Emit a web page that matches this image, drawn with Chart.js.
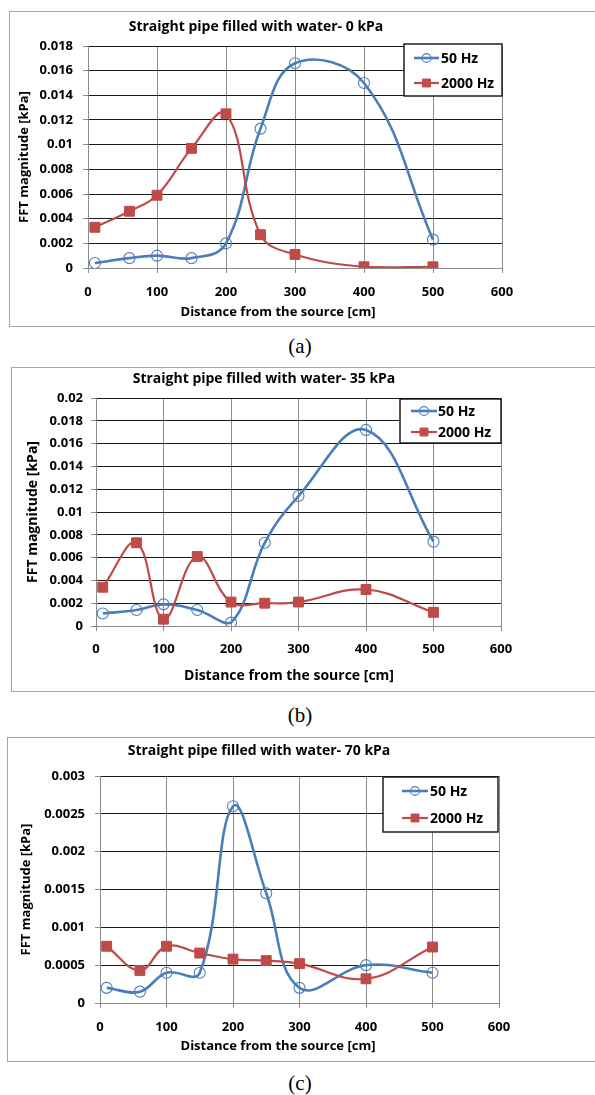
<!DOCTYPE html>
<html>
<head>
<meta charset="utf-8">
<script src="https://cdn.jsdelivr.net/npm/chart.js@4.4.1/dist/chart.umd.min.js"></script>
<style>
  body { margin: 0; background: #fff; width: 595px; height: 1095px; position: relative; overflow: hidden; }
  .box { position: absolute; border: 1px solid #a6a6a6; border-right: none; background: #fff; }
  .box canvas { position: absolute; left: 0; top: 0; }
  .cap { position: absolute; left: 0; width: 600px; text-align: center; font-family: "Liberation Serif", serif; font-size: 21px; color: #000; }
</style>
</head>
<body>
<div class="box" style="left:9px;top:11px;width:586px;height:314px"><canvas id="chartA" width="585" height="314"></canvas></div>
<div class="cap" style="top:334px">(a)</div>
<div class="box" style="left:11px;top:367px;width:584px;height:323px"><canvas id="chartB" width="583" height="323"></canvas></div>
<div class="cap" style="top:703px">(b)</div>
<div class="box" style="left:7px;top:737px;width:588px;height:323px"><canvas id="chartC" width="587" height="323"></canvas></div>
<div class="cap" style="top:1071px">(c)</div>

<script>
// distance of the measuring points [cm]
const distance = [10, 60, 100, 150, 200, 250, 300, 400, 500];

// (a) 0 kPa
const hz50_0kPa   = [0.0004, 0.0008, 0.0010, 0.0008, 0.0020, 0.0113, 0.0166, 0.0150, 0.0023];
const hz2000_0kPa = [0.0033, 0.0046, 0.0059, 0.0097, 0.0125, 0.0027, 0.0011, 0.0001, 0.0001];

// (b) 35 kPa
const hz50_35kPa   = [0.0011, 0.0014, 0.0019, 0.0014, 0.0003, 0.0073, 0.0114, 0.0172, 0.0074];
const hz2000_35kPa = [0.0034, 0.0073, 0.0006, 0.0061, 0.0021, 0.0020, 0.0021, 0.0032, 0.0012];

// (c) 70 kPa
const hz50_70kPa   = [0.00020, 0.00015, 0.00040, 0.00040, 0.00260, 0.00145, 0.00020, 0.00050, 0.00040];
const hz2000_70kPa = [0.00075, 0.00043, 0.00075, 0.00066, 0.00058, 0.00056, 0.00052, 0.00032, 0.00074];

// axis ranges / tick steps
const xMax = 600, xStep = 100;
const yMaxA = 0.018, yStepA = 0.002;
const yMaxB = 0.02,  yStepB = 0.002;
const yMaxC = 0.003, yStepC = 0.0005;

const seriesNames = ['50 Hz', '2000 Hz'];
const xTitle = 'Distance from the source [cm]';
const yTitle = 'FFT magnitude [kPa]';
const FONT = '"Open Sans", "DejaVu Sans", sans-serif';

// chart title, x axis title (Excel puts it off-centre) and the legend box
const overlay = {
  id: 'overlay',
  afterDraw(chart, args, o) {
    const ctx = chart.ctx;
    ctx.save();
    ctx.fillStyle = '#000';
    ctx.textAlign = 'center';
    ctx.textBaseline = 'middle';
    ctx.font = 'bold ' + o.titleSize + 'px ' + FONT;
    ctx.fillText(o.title, o.titleX, o.titleY);
    ctx.font = 'bold ' + o.xtSize + 'px ' + FONT;
    ctx.fillText(xTitle, o.xtX, o.xtY);

    const lg = o.legend;
    ctx.fillStyle = '#fff';
    ctx.fillRect(lg.x, lg.y, lg.w, lg.h);
    ctx.strokeStyle = '#111';
    ctx.lineWidth = 1.4;
    ctx.strokeRect(lg.x, lg.y, lg.w, lg.h);
    chart.data.datasets.forEach((ds, i) => {
      const y = lg.rows[i];
      ctx.strokeStyle = ds.borderColor;
      ctx.lineWidth = ds.borderWidth;
      ctx.beginPath();
      ctx.moveTo(lg.x0, y);
      ctx.lineTo(lg.x1, y);
      ctx.stroke();
      ctx.fillStyle = ds.pointBackgroundColor;
      ctx.lineWidth = ds.pointBorderWidth;
      Chart.helpers.drawPoint(ctx, {
        pointStyle: ds.pointStyle, radius: ds.pointRadius * 0.8,
        borderWidth: ds.pointBorderWidth, rotation: 0
      }, (lg.x0 + lg.x1) / 2, y);
      ctx.fillStyle = '#000';
      ctx.font = 'bold ' + lg.size + 'px ' + FONT;
      ctx.textAlign = 'left';
      ctx.fillText(ds.label, lg.tx, y + 1);
    });
    ctx.restore();
  }
};

function makeChart(id, title, s50, s2000, yMax, yStep, L) {
  const canvas = document.getElementById(id);
  const W = canvas.width, H = canvas.height;
  return new Chart(canvas, {
    type: 'line',
    data: {
      datasets: [
        {
          label: seriesNames[0],
          data: distance.map((d, i) => ({ x: d, y: s50[i] })),
          borderColor: '#4a7ebb',
          borderWidth: 2.6,
          tension: 0.4,
          pointStyle: 'circle',
          pointRadius: 5.5,
          pointBorderWidth: 1.1,
          pointBackgroundColor: 'rgba(255,255,255,0)',
          pointBorderColor: '#4a7ebb',
          order: 1
        },
        {
          label: seriesNames[1],
          data: distance.map((d, i) => ({ x: d, y: s2000[i] })),
          borderColor: '#be4b48',
          borderWidth: 2.2,
          tension: 0.4,
          pointStyle: 'rect',
          pointRadius: 7,
          pointBorderWidth: 1,
          pointBackgroundColor: '#be4b48',
          pointBorderColor: '#be4b48',
          order: 0
        }
      ]
    },
    options: {
      responsive: false,
      animation: false,
      layout: { padding: { top: L.top, right: W - L.right, left: 0, bottom: 0 } },
      plugins: {
        legend: { display: false },
        tooltip: { enabled: false },
        overlay: {
          title: title, titleSize: L.titleSize, titleX: L.titleX, titleY: L.titleY,
          xtSize: L.axisSize, xtX: L.xtX, xtY: L.xtY, legend: L.legend
        }
      },
      scales: {
        x: {
          type: 'linear',
          min: 0, max: xMax,
          ticks: { stepSize: xStep, padding: L.xPad, color: '#000', font: { family: FONT, size: L.tickSize, weight: 'bold' } },
          grid: { color: '#8c8c8c', tickColor: '#8c8c8c', tickLength: 5 },
          border: { color: '#8c8c8c' },
          afterFit(s) { s.height = H - L.bottom; }
        },
        y: {
          min: 0, max: yMax,
          ticks: {
            stepSize: yStep, padding: L.yPad, color: '#000',
            font: { family: FONT, size: L.tickSize, weight: 'bold' },
            callback: v => String(+v.toFixed(6))
          },
          grid: { color: '#1a1a1a', tickColor: '#8c8c8c', tickLength: 5 },
          border: { color: '#8c8c8c' },
          title: {
            display: true, text: yTitle, color: '#000',
            font: { family: FONT, size: L.axisSize, weight: 'bold' },
            padding: { top: L.yTitlePad, bottom: 0 }
          },
          afterFit(s) { s.width = L.left; }
        }
      }
    },
    plugins: [overlay]
  });
}

makeChart('chartA', 'Straight pipe filled with water- 0 kPa', hz50_0kPa, hz2000_0kPa, yMaxA, yStepA, {
  left: 78, top: 34, right: 492, bottom: 256,
  titleSize: 14, titleX: 246, titleY: 15,
  tickSize: 13, axisSize: 13, xPad: 11, yPad: 10, yTitlePad: 6,
  xtX: 268, xtY: 300,
  legend: { x: 394, y: 32, w: 98, h: 52, rows: [46, 71], x0: 404, x1: 429, tx: 431, size: 14 }
});

makeChart('chartB', 'Straight pipe filled with water- 35 kPa', hz50_35kPa, hz2000_35kPa, yMaxB, yStepB, {
  left: 84, top: 30, right: 489, bottom: 258,
  titleSize: 14, titleX: 252, titleY: 11,
  tickSize: 13, axisSize: 14, xPad: 10, yPad: 8, yTitlePad: 13,
  xtX: 277, xtY: 308,
  legend: { x: 388, y: 31, w: 101, h: 44, rows: [43, 64], x0: 399, x1: 425, tx: 426, size: 14 }
});

makeChart('chartC', 'Straight pipe filled with water- 70 kPa', hz50_70kPa, hz2000_70kPa, yMaxC, yStepC, {
  left: 92, top: 38, right: 491, bottom: 265,
  titleSize: 14, titleX: 251, titleY: 13,
  tickSize: 13, axisSize: 13, xPad: 11, yPad: 10, yTitlePad: 10,
  xtX: 270, xtY: 308,
  legend: { x: 375, y: 39, w: 115, h: 55, rows: [53, 80], x0: 394, x1: 420, tx: 422, size: 14 }
});
</script>
</body>
</html>
